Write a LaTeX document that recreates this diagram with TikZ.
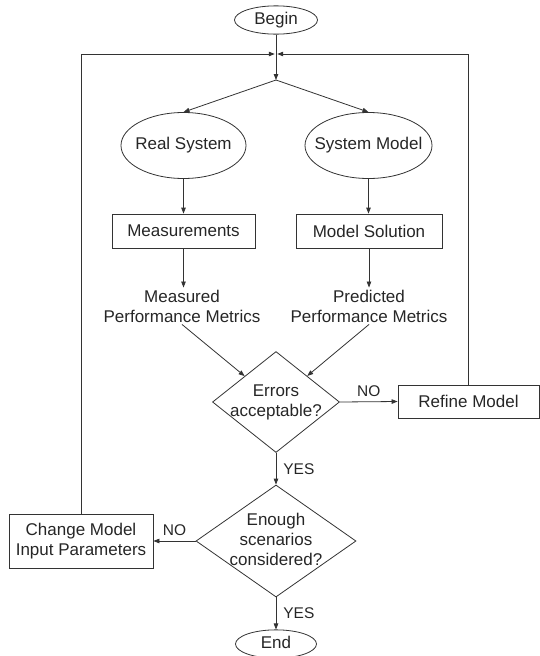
\documentclass[tikz,border=0pt]{standalone}
\usepackage{fontspec}
\setmainfont{Liberation Sans}
\usetikzlibrary{shapes.geometric,arrows.meta}
\newcommand{\zb}[1]{\makebox[0pt]{\begin{tabular}{@{}c@{}}#1\end{tabular}}}
\begin{document}
\begin{tikzpicture}[x=1pt,y=-1pt,
  line/.style={draw=black!80, line width=0.8pt},
  arr/.style={line, -{Triangle[length=6pt,width=4.5pt]}},
  main/.style={font=\fontsize{17}{20}\selectfont, text=black!85, align=center},
  ell/.style={main, draw=black!80, line width=0.8pt, ellipse, inner sep=0pt},
  box/.style={main, draw=black!80, line width=0.8pt, rectangle, inner sep=0pt},
  dia/.style={main, draw=black!80, line width=0.8pt, diamond, inner sep=0pt},
  txt/.style={main, inner sep=2pt},
  lbl/.style={font=\fontsize{15.5}{18}\selectfont, text=black!85, inner sep=2pt}]
\useasboundingbox (0,0) rectangle (540,656);
% nodes
\node[ell, minimum width=83pt, minimum height=26pt] (begin) at (276,20) {\zb{Begin}};
\coordinate (J) at (276,54);
\coordinate (S) at (276,80);
\node[ell, minimum width=125pt, minimum height=66pt] (real) at (183.5,145.5) {\zb{Real System}};
\node[ell, minimum width=127pt, minimum height=66pt] (model) at (368.5,145.5) {\zb{System Model}};
\node[box, minimum width=143pt, minimum height=34pt] (meas) at (183.5,231) {Measurements};
\node[box, minimum width=146pt, minimum height=34pt] (sol) at (369,231) {Model Solution};
\node[txt] (mpm) at (182,306) {Measured\\Performance Metrics};
\node[txt] (ppm) at (369,306) {Predicted\\Performance Metrics};
\node[dia, minimum width=127pt, minimum height=101pt] (err) at (276,402) {\zb{Errors\\acceptable?}};
\node[box, minimum width=141pt, minimum height=33pt] (ref) at (468.5,401.5) {Refine Model};
\node[dia, minimum width=160pt, minimum height=112pt] (enough) at (276,541) {\zb{Enough\\scenarios\\considered?}};
\node[box, minimum width=144pt, minimum height=54pt] (chg) at (81,541) {Change Model\\Input Parameters};
\node[ell, minimum width=81pt, minimum height=24pt] (end) at (276,644) {\zb{End}};
% connectors
\draw[arr] (begin.south) -- (S);
\draw[arr] (S) -- (real.north);
\draw[arr] (S) -- (model.north);
\draw[arr] (real.south) -- (real.south |- meas.north);
\draw[arr] (model.south) -- (model.south |- sol.north);
\draw[arr] (meas.south) -- (meas.south |- mpm.north);
\draw[arr] (sol.south) -- (sol.south |- ppm.north);
\draw[arr] (mpm.south) -- (err);
\draw[arr] (ppm.south) -- (err);
\draw[arr] (err.east) -- node[lbl, above=3pt] {NO} (ref.west);
\draw[arr] (err.south) -- node[lbl, right=5pt] {YES} (enough.north);
\draw[arr] (enough.west) -- node[lbl, above=3pt] {NO} (chg.east);
\draw[arr] (enough.south) -- node[lbl, right=5pt] {YES} (end.north);
\draw[arr, shorten >=1.2pt] (chg.north) |- (J);
\draw[arr, shorten >=1.2pt] (ref.north) |- (J);
\end{tikzpicture}
\end{document}
